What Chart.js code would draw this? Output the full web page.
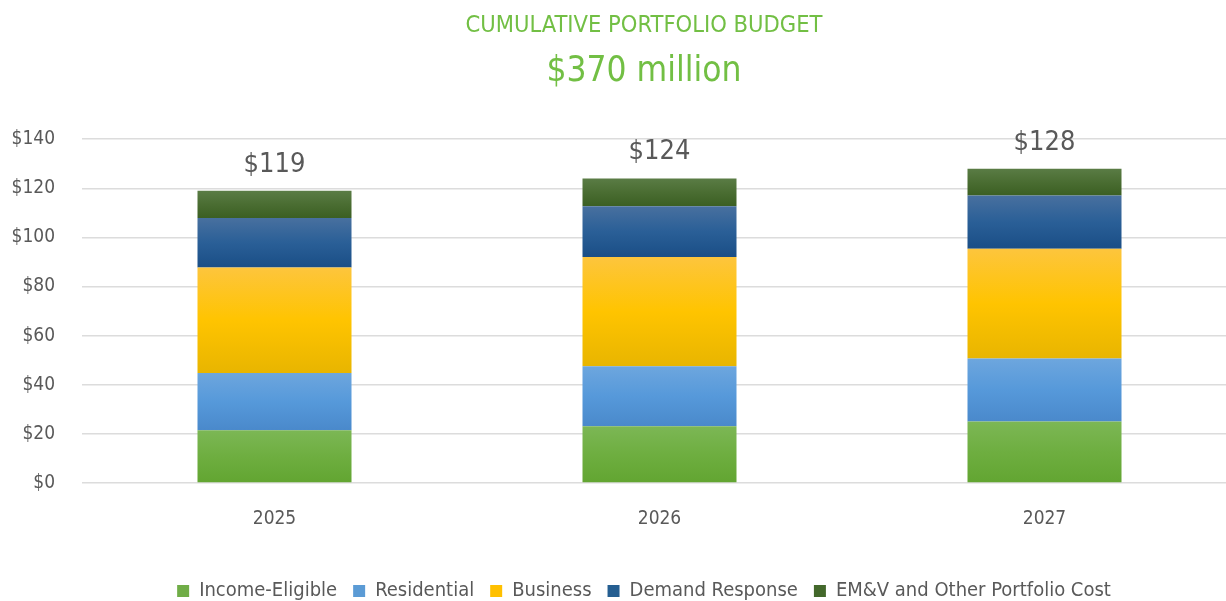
<!DOCTYPE html>
<html>
<head>
<meta charset="utf-8">
<script src="https://cdn.jsdelivr.net/npm/chart.js@4.4.1/dist/chart.umd.min.js"></script>
<style>
  html, body { margin: 0; padding: 0; background: #fff; overflow: hidden; }
  #wrap { width: 1288px; height: 601px; position: relative; }
</style>
</head>
<body>
<div id="wrap"><canvas id="budget"></canvas></div>
<script>
const years = ['2025', '2026', '2027'];
const incomeEligible = [21.5, 23.1, 25.0];
const residential = [23.3, 24.4, 25.7];
const business = [43.0, 44.5, 44.7];
const demandResponse = [20.1, 20.7, 21.7];
const emvOther = [11.1, 11.3, 10.9];
const totals = ['$119', '$124', '$128'];
const yTicks = [0, 20, 40, 60, 80, 100, 120, 140];

const FONT = "'DejaVu Sans Condensed', 'DejaVu Sans', sans-serif";
const GREY = '#595959';

// top, middle, bottom colours of each segment's vertical shading
const series = [
  { label: 'Income-Eligible', data: incomeEligible, solid: '#70ad47', stops: ['#7cb755', '#6eae40', '#62a531'] },
  { label: 'Residential', data: residential, solid: '#5b9bd5', stops: ['#6da6de', '#5699da', '#4a89cb'] },
  { label: 'Business', data: business, solid: '#ffc000', stops: ['#fdc53d', '#ffc400', '#e8b500'] },
  { label: 'Demand Response', data: demandResponse, solid: '#255e91', stops: ['#48709f', '#2a5f97', '#1a4e86'] },
  { label: 'EM&V and Other Portfolio Cost', data: emvOther, solid: '#43682b', stops: ['#5a7c45', '#4a6d32', '#3b5f22'] }
];

function shade(ctx) {
  const chart = ctx.chart;
  const s = series[ctx.datasetIndex];
  if (!chart.chartArea || ctx.dataIndex === undefined) return s.solid;
  const y = chart.scales.y;
  let base = 0;
  for (let i = 0; i < ctx.datasetIndex; i++) base += series[i].data[ctx.dataIndex];
  const top = y.getPixelForValue(base + s.data[ctx.dataIndex]);
  const bottom = y.getPixelForValue(base);
  const g = chart.ctx.createLinearGradient(0, top, 0, bottom);
  g.addColorStop(0, s.stops[0]);
  g.addColorStop(0.5, s.stops[1]);
  g.addColorStop(1, s.stops[2]);
  return g;
}

const totalLabels = {
  id: 'totalLabels',
  afterDatasetsDraw(chart) {
    const c = chart.ctx;
    const meta = chart.getDatasetMeta(series.length - 1);
    c.save();
    c.font = '27px ' + FONT;
    c.fillStyle = GREY;
    c.textAlign = 'center';
    c.textBaseline = 'alphabetic';
    meta.data.forEach((bar, i) => {
      c.fillText(totals[i], bar.x, bar.y - 19);
    });
    c.restore();
  }
};

new Chart(document.getElementById('budget'), {
  type: 'bar',
  data: {
    labels: years,
    datasets: series.map(s => ({
      label: s.label,
      data: s.data,
      backgroundColor: shade,
      legendColor: s.solid,
      borderWidth: 0,
      barPercentage: 0.4,
      categoryPercentage: 1.0
    }))
  },
  options: {
    responsive: true,
    maintainAspectRatio: false,
    animation: false,
    layout: { padding: { left: 0, right: 0, top: 0, bottom: -10 } },
    plugins: {
      title: {
        display: true,
        text: 'CUMULATIVE PORTFOLIO BUDGET',
        color: '#72bf44',
        font: { family: FONT, size: 23.5, weight: 'normal' },
        padding: { top: 12, bottom: 4 }
      },
      subtitle: {
        display: true,
        text: '$370 million',
        color: '#72bf44',
        font: { family: FONT, size: 35, weight: 'normal' },
        padding: { top: 7, bottom: 46 }
      },
      legend: {
        position: 'bottom',
        labels: {
          color: GREY,
          font: { family: FONT, size: 20 },
          boxWidth: 12,
          boxHeight: 12,
          padding: 16,
          generateLabels(chart) {
            return chart.data.datasets.map((ds, i) => ({
              text: ds.label,
              fillStyle: ds.legendColor,
              strokeStyle: ds.legendColor,
              fontColor: GREY,
              lineWidth: 0,
              datasetIndex: i,
              hidden: false
            }));
          }
        }
      },
      tooltip: { enabled: false }
    },
    scales: {
      x: {
        stacked: true,
        grid: { display: false },
        border: { display: false },
        ticks: { color: GREY, font: { family: FONT, size: 19 }, padding: 17 },
        afterFit(scale) { scale.height = 82; }
      },
      y: {
        stacked: true,
        min: 0,
        max: 140,
        afterBuildTicks(scale) {
          scale.ticks = yTicks.map(v => ({ value: v }));
        },
        afterFit(scale) { scale.width = 82; },
        grid: { color: '#dcdcdc', lineWidth: 1.5, drawTicks: false },
        border: { display: false },
        ticks: {
          color: GREY,
          font: { family: FONT, size: 19 },
          padding: 27,
          callback: v => '$' + v
        }
      },
      // empty right-hand axis: keeps the plot ending past the picture's edge
      // while the titles stay centred on the whole canvas
      spacer: {
        type: 'linear',
        position: 'right',
        min: 0,
        max: 1,
        grid: { display: false, drawOnChartArea: false },
        border: { display: false },
        ticks: { display: false },
        afterFit(scale) { scale.width = 51; }
      }
    }
  },
  plugins: [totalLabels]
});
</script>
</body>
</html>
